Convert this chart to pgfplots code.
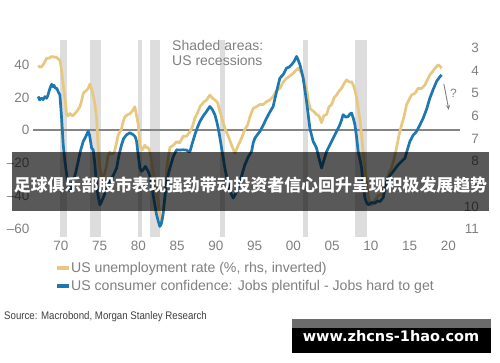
\documentclass[border=0pt]{standalone}
\usepackage{pgfplots}
\pgfplotsset{compat=1.18}
\usepackage{fontspec}
\usetikzlibrary{arrows.meta}
\setmainfont{Liberation Sans}
\newfontfamily\cjk{Noto Sans CJK SC}
\newfontfamily\wm{DejaVu Sans}
\definecolor{uyel}{HTML}{E8C87E}
\definecolor{cblu}{HTML}{1F77B0}
\definecolor{tgray}{HTML}{808080}
\definecolor{rgray}{HTML}{DDDDDD}
\definecolor{zgray}{HTML}{858585}
\begin{document}
\begin{tikzpicture}[x=1pt,y=1pt]
\fill[white] (0,0) rectangle (500,362);
\useasboundingbox (0,0) rectangle (500,362);
\pgfplotsset{
  base/.style={scale only axis, width=427pt, height=197pt, at={(33pt,125pt)}, anchor=south west,
    xmin=1966.4, xmax=2021.5,
    /pgf/number format/assume math mode=true,
    tick style={draw=none}, axis line style={draw=none},
    ticklabel style={font=\fontsize{13.5}{14}\selectfont, text=tgray, inner sep=0pt}},
}
% axis A: recession bars, zero line, left ticks, x ticks
\begin{axis}[base, ymin=-65, ymax=55, ytick={-60,-40,-20,0,20,40},
  yticklabels={–60,–40,–20,0,20,40},
  axis x line*=bottom, axis y line*=left,
  yticklabel style={anchor=east, xshift=-3.5pt},
  xtick={1970,1975,1980,1985,1990,1995,2000,2005,2010,2015,2020},
  xticklabels={70,75,80,85,90,95,00,05,10,15,20},
  xticklabel style={anchor=north, yshift=-3.7pt}]
\addplot[fill=rgray, draw=none] coordinates {(1969.92,-65)(1969.92,55)(1970.83,55)(1970.83,-65)} -- cycle;
\addplot[fill=rgray, draw=none] coordinates {(1973.79,-65)(1973.79,55)(1975.12,55)(1975.12,-65)} -- cycle;
\addplot[fill=rgray, draw=none] coordinates {(1979.97,-65)(1979.97,55)(1980.45,55)(1980.45,-65)} -- cycle;
\addplot[fill=rgray, draw=none] coordinates {(1981.5,-65)(1981.5,55)(1982.8,55)(1982.8,-65)} -- cycle;
\addplot[fill=rgray, draw=none] coordinates {(1990.5,-65)(1990.5,55)(1991.17,55)(1991.17,-65)} -- cycle;
\addplot[fill=rgray, draw=none] coordinates {(2001.2,-65)(2001.2,55)(2001.88,55)(2001.88,-65)} -- cycle;
\addplot[fill=rgray, draw=none] coordinates {(2007.92,-65)(2007.92,55)(2009.5,55)(2009.5,-65)} -- cycle;
\addplot[zgray, line width=2pt] coordinates {(1966.4,0)(2021.5,0)};
\end{axis}
% axis B: unemployment, right, inverted
\begin{axis}[base, ymin=2.65, ymax=11.35, y dir=reverse, ytick={3,4,5,6,7,8,9,10,11},
  axis y line*=right, axis x line=none,
  yticklabel style={anchor=east, xshift=19pt}]
\addplot[uyel, line width=2.7pt, line join=round] coordinates {
(1967.07,3.78)(1967.3,3.85)(1967.5,3.83)(1967.8,3.7)(1968.15,3.46)(1968.5,3.45)(1968.8,3.38)(1969.1,3.4)(1969.45,3.42)(1969.7,3.5)(1969.87,3.53)(1970.1,4.0)(1970.3,4.64)(1970.55,5.3)(1970.74,5.96)(1970.95,6.0)(1971.16,5.9)(1971.5,6.0)(1971.8,5.9)(1972.06,5.8)(1972.45,5.6)(1972.7,5.3)(1972.88,5.0)(1973.2,4.9)(1973.5,4.8)(1973.74,4.6)(1973.95,4.8)(1974.17,5.08)(1974.4,5.5)(1974.6,6.1)(1974.8,7.3)(1975.03,8.3)(1975.3,8.8)(1975.5,8.7)(1975.68,8.5)(1975.9,8.2)(1976.06,7.8)(1976.3,7.6)(1976.58,7.7)(1976.9,7.6)(1977.1,7.3)(1977.39,6.85)(1977.8,6.6)(1978.0,6.3)(1978.26,6.04)(1978.6,5.95)(1978.9,5.9)(1979.2,5.8)(1979.55,5.6)(1979.77,6.0)(1980.0,6.4)(1980.19,7.3)(1980.5,7.5)(1980.84,7.3)(1981.0,7.4)(1981.26,7.4)(1981.5,7.6)(1981.7,8.0)(1982.1,8.9)(1982.55,9.8)(1982.8,10.4)(1982.99,10.7)(1983.2,10.3)(1983.42,9.5)(1983.7,8.2)(1984.06,7.4)(1984.5,7.3)(1984.93,7.14)(1985.3,7.2)(1985.78,6.9)(1986.2,6.9)(1986.65,6.7)(1986.95,6.5)(1987.29,6.1)(1987.6,5.9)(1987.94,5.6)(1988.4,5.4)(1988.8,5.3)(1989.23,5.08)(1989.5,5.2)(1989.87,5.3)(1990.2,5.4)(1990.52,5.8)(1990.85,6.2)(1991.16,6.55)(1991.6,6.9)(1992.03,7.3)(1992.45,7.65)(1992.88,7.3)(1993.3,7.0)(1993.74,6.6)(1994.1,6.4)(1994.39,6.04)(1994.81,5.67)(1995.2,5.6)(1995.68,5.5)(1996.1,5.5)(1996.54,5.37)(1996.95,5.3)(1997.39,5.15)(1997.8,4.9)(1998.26,4.78)(1998.7,4.5)(1999.12,4.34)(1999.5,4.25)(1999.97,4.12)(2000.3,4.0)(2000.62,3.9)(2000.85,4.0)(2001.06,4.12)(2001.4,4.4)(2001.7,4.78)(2001.95,5.4)(2002.2,5.7)(2002.6,5.8)(2002.99,5.94)(2003.3,6.0)(2003.64,6.3)(2003.9,6.0)(2004.28,5.94)(2004.6,5.6)(2004.93,5.5)(2005.25,5.2)(2005.57,5.08)(2005.9,4.9)(2006.22,4.78)(2006.5,4.6)(2006.86,4.41)(2007.2,4.5)(2007.51,4.5)(2007.75,4.65)(2007.94,4.86)(2008.15,5.2)(2008.36,5.67)(2008.6,6.2)(2008.8,6.85)(2009.0,7.6)(2009.23,8.3)(2009.45,9.0)(2009.65,9.5)(2009.85,9.9)(2010.09,9.94)(2010.4,9.8)(2010.74,9.64)(2011.0,9.5)(2011.38,9.5)(2011.7,9.1)(2012.03,8.9)(2012.35,8.5)(2012.67,8.3)(2013.0,7.9)(2013.32,7.4)(2013.6,6.9)(2013.96,6.4)(2014.3,6.0)(2014.61,5.5)(2014.9,5.3)(2015.25,5.08)(2015.7,5.0)(2016.1,4.78)(2016.5,4.8)(2016.97,4.64)(2017.3,4.4)(2017.61,4.19)(2017.95,4.05)(2018.26,3.9)(2018.68,3.75)(2018.9,3.8)(2019.12,3.9)};
\draw[tgray, line width=0.9pt, -{Stealth[length=5pt,width=4pt]}] (axis cs:2019.42,4.59) -- (axis cs:2020.06,5.74);
\node[anchor=west, text=tgray, font=\fontsize{12}{12}\selectfont, inner sep=0pt] at (axis cs:2020.2,4.99) {?};
\end{axis}
% axis C: consumer confidence, left scale
\begin{axis}[base, ymin=-65, ymax=55, hide axis]
\addplot[cblu, line width=2.7pt, line join=round] coordinates {
(1967.07,20.6)(1967.25,18.5)(1967.5,19.5)(1967.7,18.7)(1967.94,20.5)(1968.15,19.5)(1968.3,21)(1968.55,25)(1968.8,28)(1969.0,26.5)(1969.1,27.5)(1969.3,25.5)(1969.45,25.7)(1969.7,23)(1969.87,21.6)(1970.09,7.4)(1970.3,-8.8)(1970.5,-18)(1970.74,-27)(1970.95,-33)(1971.16,-37)(1971.4,-34)(1971.59,-31)(1971.9,-26)(1972.23,-19)(1972.5,-13)(1972.88,-6.8)(1973.2,-4)(1973.52,-0.5)(1973.7,-3)(1973.96,-10.7)(1974.17,-12)(1974.35,-19)(1974.6,-33)(1974.8,-40)(1975.03,-45.4)(1975.2,-44)(1975.46,-41)(1975.9,-36)(1976.32,-31)(1976.8,-27)(1977.19,-23)(1977.5,-15)(1977.83,-8.8)(1978.1,-5)(1978.48,-2.7)(1978.9,-1.5)(1979.33,-2.7)(1979.6,-4)(1979.77,-6.8)(1979.95,-14)(1980.19,-23)(1980.4,-25)(1980.62,-24)(1980.9,-22)(1981.26,-25)(1981.5,-28)(1981.7,-33)(1982.0,-42)(1982.35,-51.5)(1982.6,-56)(1982.77,-58.6)(1982.95,-57)(1983.16,-52)(1983.35,-44)(1983.55,-35)(1983.8,-28)(1984.06,-23)(1984.5,-16)(1984.93,-11.9)(1985.3,-12)(1985.78,-11.9)(1986.2,-12)(1986.5,-13)(1986.65,-13)(1986.95,-8)(1987.29,-2.7)(1987.6,1.5)(1987.94,5.4)(1988.4,9)(1988.8,11.5)(1989.0,13)(1989.23,14.5)(1989.55,12.5)(1989.87,9.5)(1990.1,5.5)(1990.3,1.3)(1990.5,-4)(1990.74,-10.9)(1990.95,-17)(1991.16,-23)(1991.5,-31)(1991.81,-37)(1992.0,-39)(1992.23,-41.3)(1992.5,-39)(1992.88,-35)(1993.3,-28)(1993.74,-21)(1994.2,-16)(1994.6,-13)(1994.8,-8)(1995.03,-4.8)(1995.3,-3)(1995.68,-0.7)(1996.1,3)(1996.54,7.4)(1996.95,11)(1997.39,14.5)(1997.8,23)(1998.26,31.8)(1998.7,34)(1999.12,37.9)(1999.45,38.5)(1999.77,40)(2000.1,42)(2000.41,45)(2000.6,43)(2000.84,40)(2001.05,36)(2001.26,31.8)(2001.5,24)(2001.7,17.6)(2001.95,8)(2002.13,1)(2002.35,-3)(2002.55,-6.8)(2002.8,-9)(2002.99,-10.9)(2003.3,-17)(2003.64,-23)(2003.95,-18)(2004.28,-13)(2004.7,-9)(2005.14,-4.8)(2005.6,-0.5)(2006.0,3.4)(2006.2,6)(2006.42,9.5)(2006.75,8)(2007.07,8.4)(2007.3,10)(2007.51,10.5)(2007.75,7)(2007.94,3.4)(2008.15,-4)(2008.36,-13)(2008.6,-18)(2008.8,-23)(2009.0,-33)(2009.23,-41)(2009.45,-44)(2009.65,-45.4)(2010.1,-44)(2010.52,-44.4)(2010.85,-43)(2011.16,-43.4)(2011.59,-41)(2011.9,-34)(2012.23,-29)(2012.55,-27)(2012.88,-25)(2013.2,-23)(2013.52,-21)(2013.95,-19)(2014.39,-17)(2014.7,-12)(2015.03,-6.8)(2015.45,-3)(2015.9,-0.7)(2016.3,3)(2016.75,7.4)(2017.2,13)(2017.61,19.6)(2018.05,25)(2018.48,29.8)(2018.8,32)(2019.12,33.8)};
\end{axis}
% annotation text
\node[anchor=base west, inner sep=0pt, text=tgray, font=\fontsize{14}{14}\selectfont] at (172,311) {Shaded areas:};
\node[anchor=base west, inner sep=0pt, text=tgray, font=\fontsize{14}{14}\selectfont] at (172,296) {US recessions};
% legend
\draw[uyel, line width=4pt] (57,94) -- (69,94);
\node[anchor=base west, inner sep=0pt, text=tgray, font=\fontsize{14.1}{15}\selectfont] at (71,89.3) {US unemployment rate (\%, rhs, inverted)};
\draw[cblu, line width=4pt] (57,76) -- (69,76);
\node[anchor=base west, inner sep=0pt, text=tgray, font=\fontsize{14.1}{15}\selectfont] at (71,71.3) {US consumer confidence: Jobs plentiful - Jobs hard to get};
% source
\node[anchor=base west, inner sep=0pt, text=black!75, font=\fontsize{11}{11}\selectfont] at (4,43) {\scalebox{0.88}[1]{Source: Macrobond, Morgan Stanley Research}};
% banner overlay
\fill[black, opacity=0.65] (12,151) rectangle (489,210);
\node[text=white, inner sep=0pt, font=\cjk\bfseries\fontsize{16.9}{18}\selectfont] at (250.5,177) {足球俱乐部股市表现强劲带动投资者信心回升呈现积极发展趋势};
% watermark
\fill[black!58] (292,33.7) rectangle (490.7,43);
\fill[black] (292,9.3) rectangle (490.7,33.7);
\node[text=white, inner sep=0pt, font=\wm\bfseries\fontsize{14.5}{15}\selectfont] at (391,25.5) {www.zhcns-1hao.com};
\end{tikzpicture}
\end{document}
